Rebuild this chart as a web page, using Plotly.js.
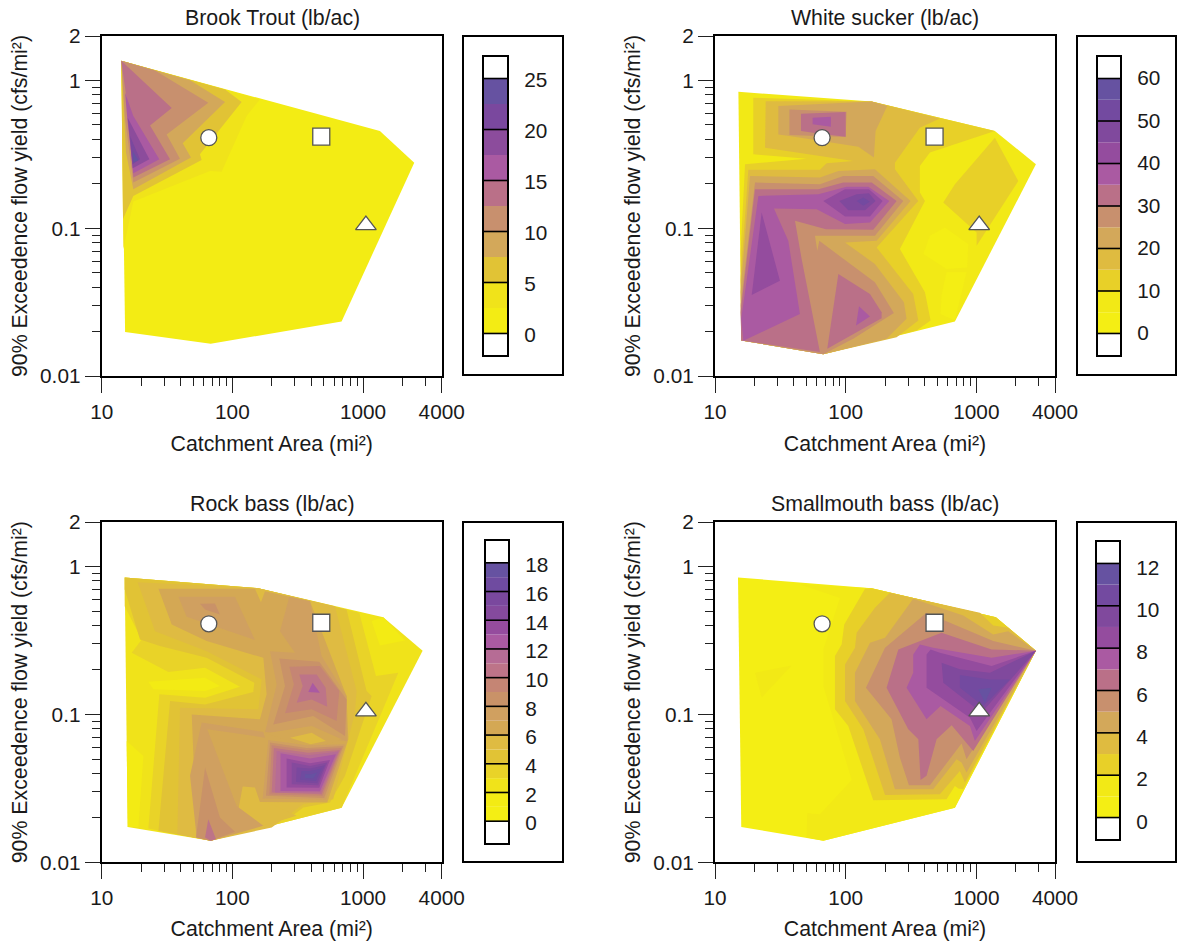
<!DOCTYPE html>
<html><head><meta charset="utf-8">
<style>html,body{margin:0;padding:0;background:#fff;overflow:hidden}#chart{width:1177px;height:943px}</style>
<script src="https://cdn.plot.ly/plotly-3.0.1.min.js"></script></head>
<body><div id="chart"></div>
<script>
// Each band: [class index, log10(area), log10(yield), log10(area), log10(yield), ...]
const brookBands = [
[0,1.150,.133,3.129,-.342,3.392,-.556,2.836,-1.631,1.834,-1.782,1.179,-1.703],
[1,1.150,.133,2.211,-.128,2.109,-.241,1.918,-.617,1.829,-.612,1.242,-.819,1.166,-1.141],
[2,1.150,.133,1.944,-.061,2.071,-.146,1.752,-.500,1.765,-.538,1.242,-.781,1.163,-.938],
[3,1.150,.133,1.676,.002,1.944,-.146,1.620,-.425,1.683,-.522,1.242,-.736,1.186,-.488],
[4,1.150,.133,1.408,.068,1.816,-.151,1.497,-.365,1.599,-.529,1.242,-.691,1.179,-.263],
[5,1.150,.133,1.536,-.187,1.370,-.304,1.523,-.533,1.242,-.657,1.191,-.128],
[6,1.179,-.083,1.242,-.241,1.441,-.533,1.242,-.628,1.196,-.263],
[7,1.199,-.252,1.365,-.533,1.237,-.594],
[8,1.217,-.376,1.293,-.533,1.237,-.567],
[9,1.237,-.477,1.281,-.540,1.242,-.556]
];
const suckerBands = [
[1,1.179,-.077,2.199,-.142,3.142,-.342,3.456,-.567,2.836,-1.631,1.829,-1.852,1.201,-1.760],
[0,2.760,-.995,2.938,-1.107,2.930,-1.265,2.772,-1.276,2.594,-1.175,2.645,-1.051],
[0,2.772,-1.298,2.925,-1.298,2.836,-1.625,2.726,-1.580,2.734,-1.456],
[2,1.293,-.117,2.199,-.142,3.142,-.342,2.645,-.488,2.568,-.578,2.568,-.758,2.607,-.815,2.415,-1.141,2.607,-1.433,2.650,-1.625,2.543,-1.692,1.829,-1.852,1.201,-1.760,1.196,-1.163,1.230,-.567,1.701,-.529,1.293,-.500],
[2,3.142,-.387,3.321,-.680,3.002,-1.118,3.002,-1.028,2.747,-.826,2.836,-.702],
[3,1.388,-.140,2.199,-.142,2.721,-.257,2.568,-.320,2.377,-.556,2.377,-.601,2.556,-.815,2.237,-1.130,2.517,-1.445,2.556,-1.625,2.390,-1.737,1.829,-1.852,1.201,-1.760,1.196,-1.343,1.255,-.605,1.803,-.605,1.854,-.560,2.058,-.545,1.383,-.455],
[4,1.485,-.173,2.199,-.142,2.318,-.173,2.229,-.342,2.216,-.522,2.097,-.448,1.569,-.376,1.485,-.365],
[5,1.569,-.196,2.007,-.212,2.000,-.383,1.569,-.369],
[6,1.658,-.225,2.000,-.214,2.000,-.380,1.791,-.358,1.658,-.342],
[7,1.747,-.252,1.887,-.245,1.887,-.313,1.747,-.297],
[4,1.268,-.646,1.803,-.657,1.944,-.612,2.224,-.601,2.497,-.815,2.237,-1.085,1.995,-1.096,2.224,-1.242,2.446,-1.501,2.466,-1.613,2.313,-1.748,1.829,-1.852,1.201,-1.760,1.196,-1.433],
[5,1.306,-.691,1.803,-.702,1.982,-.646,2.211,-.646,2.441,-.815,2.224,-1.051,1.765,-1.051,1.783,-1.152,1.798,-1.085,2.224,-1.366,2.369,-1.573,2.058,-1.748,1.829,-1.852,1.201,-1.760,1.196,-1.523],
[6,1.306,-.736,1.791,-.736,1.982,-.691,2.199,-.691,2.390,-.815,2.211,-1.010,1.849,-1.006,1.612,-.950,1.663,-1.208,1.803,-1.838,1.201,-1.760,1.196,-1.568],
[6,1.944,-1.310,2.186,-1.445,2.275,-1.568,2.275,-1.609,1.859,-1.816],
[7,1.332,-.781,1.791,-.770,2.007,-.720,2.173,-.720,2.334,-.815,2.186,-.961,1.995,-.972,1.778,-.871,1.451,-.866,1.561,-1.085,1.650,-1.580,1.217,-1.762,1.201,-1.613],
[7,2.102,-1.528,2.186,-1.598,2.079,-1.658],
[8,1.357,-.893,1.497,-1.355,1.281,-1.451],
[8,1.829,-.815,1.995,-.736,2.178,-.736,2.283,-.815,2.186,-.920,1.995,-.920],
[9,1.951,-.815,2.084,-.770,2.178,-.763,2.229,-.815,2.148,-.878,2.020,-.878],
[10,2.084,-.815,2.135,-.792,2.186,-.821,2.135,-.848]
];
const rockBands = [
[2,1.176,-.074,2.199,-.146,3.155,-.342,3.456,-.569,2.836,-1.631,1.834,-1.854,1.199,-1.760],
[1,3.155,-.342,3.321,-.500,3.129,-.533,3.066,-.369],
[1,1.199,-1.760,1.191,-1.179,1.319,-1.280,1.281,-1.760],
[1,1.357,-.779,1.791,-.752,1.905,-.808,1.791,-.842,1.395,-.830],
[3,1.176,-.074,2.199,-.146,2.971,-.313,3.099,-.740,3.270,-.718,2.836,-1.631,1.834,-1.854,1.357,-1.771,1.441,-.864,1.791,-.887,2.058,-.812,1.791,-.684,1.510,-.713,1.230,-.583,1.306,-.493,1.176,-.268],
[4,1.176,-.074,2.199,-.146,2.874,-.290,3.027,-.842,3.066,-.875,2.862,-1.415,2.747,-1.595,2.543,-1.629,2.441,-1.697,1.834,-1.854,1.434,-1.787,1.523,-.909,1.791,-.932,2.160,-.848,2.168,-.785,1.803,-.617,1.446,-.538,1.293,-.493,1.176,-.155],
[5,1.275,-.106,2.199,-.146,2.785,-.268,2.951,-.842,2.938,-.988,2.772,-1.573,2.543,-1.607,2.301,-1.764,1.834,-1.854,1.579,-1.809,1.599,-.954,2.199,-.965,2.224,-.763,1.803,-.572,1.408,-.437],
[6,1.434,-.151,2.173,-.151,2.219,-.241,2.250,-.167,2.594,-.234,2.874,-.875,2.887,-1.168,2.726,-1.595,2.206,-1.591,2.084,-1.494,2.173,-1.595,2.301,-1.613,2.007,-1.787,1.834,-1.854,1.727,-1.832,1.689,-1.000,2.211,-1.033,2.262,-.864,2.237,-.617,1.803,-.504,1.536,-.392],
[5,2.079,-1.487,2.173,-1.494,2.211,-1.591,2.301,-1.607,2.492,-1.685,2.186,-1.764,2.046,-1.640],
[7,1.587,-.205,2.020,-.205,2.173,-.497,1.650,-.340],
[7,2.436,-.205,2.594,-.234,2.683,-.605,2.874,-.875,2.874,-1.179,2.250,-1.118,2.339,-.797,2.288,-.572,2.479,-.583,2.364,-.437],
[7,1.765,-1.055,2.237,-1.118,2.250,-1.157,1.808,-1.100,2.033,-1.618,2.237,-1.753,1.834,-1.854,1.727,-1.832,1.676,-1.415],
[8,1.791,-1.359,1.905,-1.697,2.020,-1.793,1.834,-1.854,1.722,-1.832],
[8,1.752,-.252,1.867,-.250,1.905,-.324,1.791,-.290],
[10,1.816,-1.708,1.875,-1.843,1.834,-1.854,1.791,-1.832],
[8,2.359,-.621,2.665,-.644,2.874,-.898,2.862,-1.145,2.619,-1.010,2.313,-1.067,2.403,-.808],
[9,2.436,-.677,2.670,-.673,2.818,-.842,2.798,-1.044,2.607,-.965,2.403,-.992,2.471,-.797],
[10,2.512,-.729,2.645,-.729,2.714,-.819,2.726,-.947,2.607,-.898,2.492,-.920,2.538,-.808],
[12,2.581,-.848,2.614,-.785,2.670,-.853],
[6,2.262,-1.127,2.607,-1.078,2.836,-1.168,2.607,-1.230],
[5,2.441,-1.157,2.607,-1.123,2.716,-1.179,2.599,-1.202],
[7,2.275,-1.172,2.568,-1.208,2.862,-1.202,2.716,-1.577,2.232,-1.568],
[8,2.288,-1.190,2.568,-1.226,2.849,-1.213,2.703,-1.564,2.257,-1.550],
[9,2.301,-1.208,2.568,-1.240,2.836,-1.226,2.691,-1.550,2.283,-1.541],
[10,2.318,-1.226,2.581,-1.258,2.823,-1.240,2.683,-1.539,2.301,-1.528],
[11,2.339,-1.247,2.581,-1.276,2.811,-1.251,2.675,-1.528,2.326,-1.528],
[12,2.369,-1.262,2.594,-1.298,2.793,-1.269,2.670,-1.519,2.369,-1.517],
[13,2.415,-1.298,2.594,-1.330,2.747,-1.307,2.665,-1.496,2.415,-1.494],
[14,2.454,-1.325,2.594,-1.348,2.726,-1.325,2.658,-1.478,2.454,-1.472],
[15,2.492,-1.359,2.594,-1.366,2.709,-1.343,2.650,-1.465,2.487,-1.456],
[16,2.530,-1.382,2.594,-1.382,2.683,-1.366,2.640,-1.449,2.517,-1.442],
[17,2.556,-1.404,2.607,-1.404,2.650,-1.393,2.619,-1.433,2.556,-1.429]
];
const bassBands = [
[0,1.176,-.074,2.199,-.146,3.150,-.342,3.456,-.569,2.836,-1.631,1.829,-1.854,1.201,-1.760],
[1,1.650,-.122,2.199,-.146,3.150,-.342,3.456,-.569,2.836,-1.631,1.829,-1.854,1.701,-1.832,1.706,-1.667,1.803,-1.674,2.046,-1.443,1.829,-.808,1.829,-.560,1.956,-.212],
[1,1.306,-.718,1.587,-.669,1.357,-.887],
[2,2.148,-.151,2.199,-.146,3.150,-.342,3.456,-.569,2.900,-1.505,2.862,-1.501,2.836,-1.483,2.772,-1.573,2.211,-1.580,2.020,-1.078,1.918,-.965,1.918,-.605,1.969,-.527,1.989,-.392],
[3,2.339,-.178,2.224,-.279,2.084,-.448,2.071,-.549,1.995,-.662,1.995,-.909,2.135,-1.100,2.301,-1.544,2.721,-1.539,2.874,-1.382,2.913,-1.460,3.456,-.569,3.244,-.414,3.129,-.398,3.027,-.313],
[4,2.517,-.218,2.301,-.482,2.186,-.515,2.071,-.718,2.071,-.909,2.262,-1.168,2.377,-1.505,2.670,-1.505,2.849,-1.303,2.887,-1.325,2.925,-1.393,3.456,-.569,3.244,-.437,3.129,-.459,2.900,-.331],
[5,2.619,-.313,2.301,-.549,2.155,-.819,2.351,-1.033,2.415,-1.292,2.484,-1.478,2.645,-1.478,2.887,-1.197,2.925,-1.303,3.456,-.569,3.129,-.504,2.798,-.380],
[6,2.734,-.448,2.403,-.560,2.313,-.819,2.479,-1.100,2.556,-1.168,2.573,-1.443,2.619,-1.415,2.696,-1.168,2.811,-1.073,2.976,-1.247,3.456,-.569,3.117,-.560],
[7,2.568,-.527,2.517,-.594,2.517,-.718,2.466,-.819,2.619,-1.033,2.726,-.943,2.951,-1.078,2.989,-1.179,3.456,-.569,3.117,-.617,2.670,-.549],
[8,2.650,-.560,2.619,-.594,2.619,-.819,2.951,-1.022,3.002,-1.112,3.456,-.569,3.117,-.673,2.721,-.583],
[9,2.734,-.650,2.747,-.785,3.040,-.988,3.456,-.569,3.104,-.718,2.874,-.695],
[10,2.874,-.734,2.874,-.819,3.053,-.943,3.257,-.763,3.104,-.763],
[11,3.015,-.830,3.117,-.819,3.066,-.920]
];

const brookColors = ["#F3EC14","#F0E31A","#E1C335","#D3A85A","#C8906E","#BA7088","#AA5AA2","#8C4C9C","#7A489E","#6652A1"];
const twelveColors = ["#F4EE14","#F2E916","#E8D028","#DFBB40","#D3A85A","#C8906E","#BA7088","#AA5AA2","#944C9E","#80499D","#734AA0","#6652A1"];
const rockColors = ["#F4EE14","#F3EB14","#F0E31A","#E9D328","#E1C335","#DFBB42","#D4A854","#D0A060","#C99268","#C58574","#BD7488","#B66C95","#AA5AA2","#954C9E","#854A9D","#7A489E","#6F4BA0","#6652A1"];

const brookLevels = [0,5,10,15,20,25];
const suckerLevels = [0,10,20,30,40,50,60];
const rockLevels = [0,2,4,6,8,10,12,14,16,18];
const bassLevels = [0,2,4,6,8,10,12];

const siteArea = [66, 479, 1052];
const siteYield = [0.41, 0.417, 0.105];
const siteSymbols = ["circle","square","triangle-up"];
const siteSizes = [16,17,18];

const majorArea = [10,100,1000,4000];
const minorArea = [20,30,40,50,60,70,80,90,200,300,400,500,600,700,800,900,2000,3000];
const majorYield = [0.01,0.1,1,2];
const minorYield = [0.02,0.03,0.04,0.05,0.06,0.07,0.08,0.09,0.2,0.3,0.4,0.5,0.6,0.7,0.8,0.9];

const W=1177,H=943,FONT='"Liberation Sans", Arial, sans-serif',FS=21.3,TS=20.8;
const panels=[
 {title:"Brook Trout (lb/ac)",bands:brookBands,colors:brookColors,levels:brookLevels,bx:[101.7,441.7],by:[36,376],tx:272,ty:18,cb:[484,507,57,355],box:[463,563,36,375],nudge:1,xStandoff:14},
 {title:"White sucker (lb/ac)",bands:suckerBands,colors:twelveColors,levels:suckerLevels,bx:[715,1055],by:[36,376],tx:885,ty:18,cb:[1098,1120,57,355],box:[1077,1176,36,375],nudge:-.5,xStandoff:14},
 {title:"Rock bass (lb/ac)",bands:rockBands,colors:rockColors,levels:rockLevels,bx:[101.7,441.7],by:[522,862.4],tx:272,ty:504,cb:[486,508,541,843],box:[463,563,522,862],nudge:2,xStandoff:13},
 {title:"Smallmouth bass (lb/ac)",bands:bassBands,colors:twelveColors,levels:bassLevels,bx:[715,1055],by:[522,862.4],tx:885,ty:504,cb:[1097,1119,542,839],box:[1077,1176,522,862],nudge:4,xStandoff:13}
];
const px=v=>v/W, py=v=>1-v/H;
const traces=[],layout={width:W,height:H,margin:{l:0,r:0,t:0,b:0},showlegend:false,paper_bgcolor:'#fff',plot_bgcolor:'#fff',
  font:{family:FONT,size:FS,color:'#1a1a1a'},annotations:[],shapes:[]};
panels.forEach((p,i)=>{
  const a=2*i+1,b=2*i+2;
  const xn='x'+a,yn='y'+a,xc='x'+b,yc='y'+b;
  const xk='xaxis'+a,yk='yaxis'+a,xck='xaxis'+b,yck='yaxis'+b;
  p.bands.forEach(r=>{
    const lx=[],ly=[];
    for(let k=1;k<r.length;k+=2){lx.push(Math.pow(10,r[k]));ly.push(Math.pow(10,r[k+1]));}
    lx.push(lx[0]);ly.push(ly[0]);
    traces.push({type:'scatter',x:lx,y:ly,xaxis:xn,yaxis:yn,mode:'none',fill:'toself',fillcolor:p.colors[r[0]],hoverinfo:'skip'});
  });
  traces.push({type:'scatter',x:siteArea,y:siteYield,xaxis:xn,yaxis:yn,mode:'markers',hoverinfo:'skip',cliponaxis:false,
    marker:{symbol:siteSymbols,size:siteSizes,color:'#fff',opacity:1,line:{color:'#555',width:1.3}}});
  layout[xk]={type:'log',domain:[px(p.bx[0]),px(p.bx[1])],range:[1,Math.log10(4000)],anchor:yn,
    tickmode:'array',tickvals:majorArea,ticktext:majorArea.map(String),ticks:'outside',ticklen:15,tickwidth:1,tickcolor:'#222',
    minor:{tickmode:'array',tickvals:minorArea,ticks:'outside',ticklen:8,tickwidth:1,tickcolor:'#222',showgrid:false},
    showgrid:false,zeroline:false,showline:true,mirror:true,linewidth:2,linecolor:'#000',ticklabelstandoff:1,
    title:{text:'Catchment Area (mi²)',standoff:p.xStandoff,font:{size:FS}},tickfont:{size:TS}};
  layout[yk]={type:'log',domain:[py(p.by[1]),py(p.by[0])],range:[-2,Math.log10(2)],anchor:xn,
    tickmode:'array',tickvals:majorYield,ticktext:majorYield.map(String),ticks:'outside',ticklen:15,tickwidth:1,tickcolor:'#222',
    minor:{tickmode:'array',tickvals:minorYield,ticks:'outside',ticklen:8,tickwidth:1,tickcolor:'#222',showgrid:false},
    showgrid:false,zeroline:false,showline:true,mirror:true,linewidth:2,linecolor:'#000',
    title:{text:'90% Exceedence flow yield (cfs/mi²)',standoff:7,font:{size:FS}},tickfont:{size:TS}};
  layout.annotations.push({xref:'paper',yref:'paper',x:px(p.tx),y:py(p.ty),xanchor:'center',yanchor:'middle',showarrow:false,text:p.title,font:{size:FS}});
  // colour key
  const max=p.levels[p.levels.length-1],n=p.colors.length,step=max/n,cap=max*0.0844;
  const vals=[cap],bases=[-cap],cols=['#fff'];
  p.colors.forEach((c,k)=>{vals.push(step);bases.push(k*step);cols.push(c);});
  vals.push(cap);bases.push(max);cols.push('#fff');
  traces.push({type:'bar',x:vals.map(()=>0),y:vals,base:bases,width:1,xaxis:xc,yaxis:yc,marker:{color:cols,line:{width:0}},hoverinfo:'skip'});
  const lx=[],ly=[];
  p.levels.forEach(v=>{lx.push(-.5,.5,null);ly.push(v,v,null);});
  traces.push({type:'scatter',x:lx,y:ly,xaxis:xc,yaxis:yc,mode:'lines',line:{color:'#000',width:1.6},hoverinfo:'skip'});
  const nudge=p.nudge*(max+2*cap)/(p.cb[3]-p.cb[2]);
  layout[xck]={domain:[px(p.cb[0]),px(p.cb[1])],range:[-.5,.5],anchor:yc,showticklabels:false,ticks:'',showgrid:false,zeroline:false,showline:true,mirror:true,linewidth:2,linecolor:'#000'};
  layout[yck]={domain:[py(p.cb[3]),py(p.cb[2])],range:[-cap,max+cap],anchor:xc,side:'right',tickmode:'array',tickvals:p.levels.map(v=>v-nudge),ticktext:p.levels.map(String),
    ticks:'outside',ticklen:11,tickcolor:'rgba(0,0,0,0)',tickfont:{size:TS},showgrid:false,zeroline:false,showline:true,mirror:true,linewidth:2,linecolor:'#000'};
  layout.shapes.push({type:'rect',xref:'paper',yref:'paper',x0:px(p.box[0]),x1:px(p.box[1]),y0:py(p.box[3]),y1:py(p.box[2]),line:{color:'#000',width:2},fillcolor:'rgba(0,0,0,0)'});
});
Plotly.newPlot('chart',traces,layout,{displayModeBar:false,staticPlot:true});
</script></body></html>
